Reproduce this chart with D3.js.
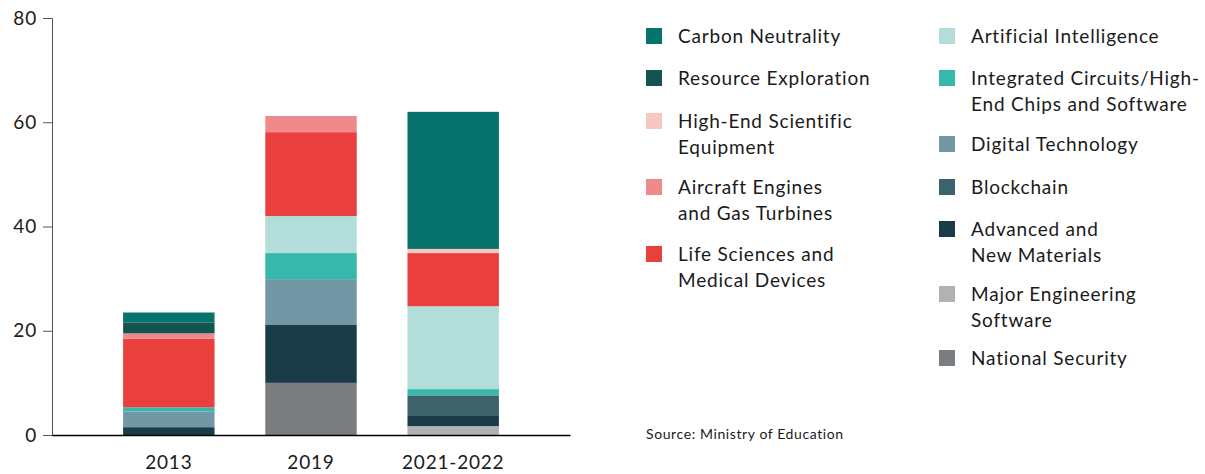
<!DOCTYPE html>
<html>
<head>
<meta charset="utf-8">
<script src="https://cdn.jsdelivr.net/npm/d3@7"></script>
<style>
  body { margin: 0; background: #fff; }
  text { font-family: Lato, "Open Sans", sans-serif; fill: #1a1a1a; }
</style>
</head>
<body>
<div id="chart"></div>
<script>
// Data
const years = ['2013', '2019', '2021-2022'];
// stack order bottom -> top
const fields = [
    'National Security', 'Major Engineering Software', 'Advanced and New Materials', 'Blockchain',
    'Digital Technology', 'Integrated Circuits/High-End Chips and Software', 'Artificial Intelligence',
    'Life Sciences and Medical Devices', 'Aircraft Engines and Gas Turbines',
    'High-End Scientific Equipment', 'Resource Exploration', 'Carbon Neutrality'
];
const nationalSecurity = [0, 10, 0];
const majorEngSoftware = [0, 0, 1.7];
const advancedMaterials = [1.5, 11.1, 2.1];
const blockchain = [0, 0, 3.8];
const digitalTech = [3.0, 8.8, 0];
const integratedCircuits = [0.8, 5.0, 1.2];
const artificialIntel = [0, 7.1, 15.9];
const lifeSciences = [13.2, 16.1, 10.2];
const aircraftEngines = [1.0, 3.1, 0];
const scientificEquip = [0, 0, 0.8];
const resourceExploration = [2.1, 0, 0];
const carbonNeutrality = [1.9, 0, 26.3];
const yTicks = [0, 20, 40, 60, 80];
const sourceNote = 'Source: Ministry of Education';

const seriesValues = [nationalSecurity, majorEngSoftware, advancedMaterials, blockchain, digitalTech,
    integratedCircuits, artificialIntel, lifeSciences, aircraftEngines, scientificEquip,
    resourceExploration, carbonNeutrality];

const colors = {
    'National Security': '#7a7e81',
    'Major Engineering Software': '#b2b2b3',
    'Advanced and New Materials': '#193c48',
    'Blockchain': '#3c636c',
    'Digital Technology': '#7297a5',
    'Integrated Circuits/High-End Chips and Software': '#36b8ad',
    'Artificial Intelligence': '#b3ddd9',
    'Life Sciences and Medical Devices': '#e9403d',
    'Aircraft Engines and Gas Turbines': '#f08a8a',
    'High-End Scientific Equipment': '#f9c6c6',
    'Resource Exploration': '#12554f',
    'Carbon Neutrality': '#06736c'
};

// legend layout: [name, lines]
const legendCol1 = [
    ['Carbon Neutrality', ['Carbon Neutrality']],
    ['Resource Exploration', ['Resource Exploration']],
    ['High-End Scientific Equipment', ['High-End Scientific', 'Equipment']],
    ['Aircraft Engines and Gas Turbines', ['Aircraft Engines', 'and Gas Turbines']],
    ['Life Sciences and Medical Devices', ['Life Sciences and', 'Medical Devices']]
];
const legendCol2 = [
    ['Artificial Intelligence', ['Artificial Intelligence']],
    ['Integrated Circuits/High-End Chips and Software', ['Integrated Circuits/High-', 'End Chips and Software']],
    ['Digital Technology', ['Digital Technology']],
    ['Blockchain', ['Blockchain']],
    ['Advanced and New Materials', ['Advanced and', 'New Materials']],
    ['Major Engineering Software', ['Major Engineering', 'Software']],
    ['National Security', ['National Security']]
];

const width = 1205, height = 474;
const svg = d3.select('#chart').append('svg')
    .attr('width', width)
    .attr('height', height);

// build table for stack
const table = years.map((y, i) => {
    const row = { year: y };
    fields.forEach((f, j) => { row[f] = seriesValues[j][i]; });
    return row;
});
const stacked = d3.stack().keys(fields)(table);

const x = d3.scaleBand().domain(years).range([52, 570]).paddingInner(0.357).paddingOuter(0.5);
const y = d3.scaleLinear().domain([0, 80]).range([435, 18]);

// bars
svg.append('g').selectAll('g')
    .data(stacked)
    .enter().append('g')
    .attr('fill', d => colors[d.key])
    .selectAll('rect')
    .data(d => d)
    .enter().append('rect')
    .attr('x', d => x(d.data.year))
    .attr('width', x.bandwidth())
    .attr('y', d => y(d[1]))
    .attr('height', d => y(d[0]) - y(d[1]));

// y axis
const yAxis = svg.append('g')
    .attr('transform', 'translate(52,0)')
    .call(d3.axisLeft(y).tickValues(yTicks).tickSize(9).tickPadding(6));
yAxis.select('.domain').attr('stroke', '#555');
yAxis.selectAll('.tick line').attr('stroke', '#555');
yAxis.selectAll('text').style('font-size', '19px').style('letter-spacing', '0.8px').attr('fill', '#1a1a1a');

// x axis
const xAxis = svg.append('g')
    .attr('transform', 'translate(0,435)')
    .call(d3.axisBottom(x).tickSize(0).tickPadding(21));
xAxis.select('.domain').attr('stroke', '#000').attr('stroke-width', 1.5);
xAxis.selectAll('text').style('font-size', '19px').style('letter-spacing', '0.8px').attr('fill', '#1a1a1a');

// legend
function drawLegend(items, sx, tx, rowsY) {
    const g = svg.append('g');
    items.forEach((item, i) => {
        const cy = rowsY[i];
        g.append('rect')
            .attr('x', sx).attr('y', cy - 8)
            .attr('width', 16).attr('height', 16)
            .attr('fill', colors[item[0]]);
        item[1].forEach((line, k) => {
            g.append('text')
                .attr('x', tx).attr('y', cy + k * 26)
                .attr('dy', '0.35em')
                .style('font-size', '19px')
                .style('letter-spacing', '0.8px')
                .text(line);
        });
    });
}
drawLegend(legendCol1, 646, 678, [36, 78, 121, 187, 254]);
drawLegend(legendCol2, 939, 971, [36, 78, 144, 187, 229, 294, 358]);

svg.append('text')
    .attr('x', 646).attr('y', 434)
    .attr('dy', '0.35em')
    .style('font-size', '14px')
    .style('letter-spacing', '0.6px')
    .text(sourceNote);
</script>
</body>
</html>
